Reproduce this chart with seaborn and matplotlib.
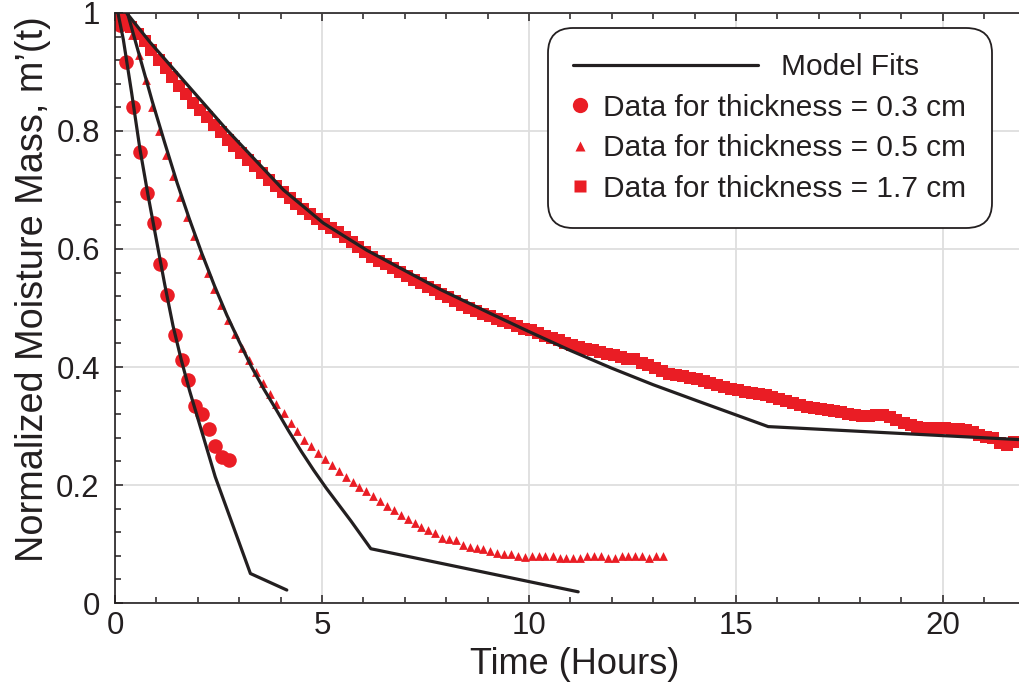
import matplotlib
matplotlib.use('Agg')
import matplotlib.pyplot as plt
from matplotlib.lines import Line2D
from matplotlib.legend_handler import HandlerLine2D
from matplotlib.ticker import MultipleLocator, FuncFormatter
import seaborn as sns

# data (time in hours, normalized moisture mass)
t_03 = [0.04, 0.12, 0.27, 0.44, 0.60, 0.77, 0.93, 1.09, 1.26, 1.45,
        1.61, 1.77, 1.94, 2.11, 2.26, 2.42, 2.59, 2.76]
m_03 = [1.000, 0.979, 0.917, 0.840, 0.765, 0.695, 0.644, 0.575, 0.522, 0.454,
        0.412, 0.378, 0.334, 0.320, 0.295, 0.266, 0.247, 0.242]

t_05 = [0.07, 0.24, 0.40, 0.57, 0.74, 0.90, 1.07, 1.24, 1.40, 1.57,
        1.74, 1.90, 2.07, 2.24, 2.40, 2.57, 2.74, 2.90, 3.07, 3.24,
        3.40, 3.57, 3.74, 3.90, 4.07, 4.24, 4.40, 4.57, 4.74, 4.90,
        5.07, 5.24, 5.40, 5.57, 5.74, 5.90, 6.07, 6.24, 6.40, 6.57,
        6.74, 6.90, 7.07, 7.24, 7.40, 7.57, 7.74, 7.90, 8.07, 8.24,
        8.40, 8.57, 8.74, 8.90, 9.07, 9.24, 9.40, 9.57, 9.74, 9.90,
        10.07, 10.24, 10.40, 10.57, 10.74, 10.90, 11.07, 11.24, 11.40, 11.57,
        11.74, 11.90, 12.07, 12.24, 12.40, 12.57, 12.74, 12.90, 13.07, 13.24]
m_05 = [1.000, 0.990, 0.963, 0.929, 0.886, 0.840, 0.800, 0.760, 0.723, 0.688,
        0.655, 0.622, 0.590, 0.560, 0.532, 0.505, 0.479, 0.456, 0.432, 0.412,
        0.392, 0.373, 0.354, 0.337, 0.322, 0.305, 0.291, 0.277, 0.266, 0.255,
        0.244, 0.234, 0.224, 0.214, 0.205, 0.197, 0.189, 0.181, 0.173, 0.165,
        0.157, 0.150, 0.143, 0.135, 0.129, 0.124, 0.118, 0.111, 0.108, 0.106,
        0.099, 0.095, 0.094, 0.092, 0.088, 0.085, 0.083, 0.083, 0.080, 0.078,
        0.079, 0.079, 0.079, 0.079, 0.076, 0.076, 0.076, 0.076, 0.079, 0.079,
        0.079, 0.076, 0.076, 0.079, 0.079, 0.079, 0.079, 0.076, 0.079, 0.079]

t_17 = [0.05, 0.22, 0.38, 0.55, 0.72, 0.88, 1.05, 1.22, 1.38, 1.55,
        1.72, 1.88, 2.05, 2.22, 2.38, 2.55, 2.72, 2.88, 3.05, 3.22,
        3.38, 3.55, 3.72, 3.88, 4.05, 4.22, 4.38, 4.55, 4.72, 4.88,
        5.05, 5.22, 5.38, 5.55, 5.72, 5.88, 6.05, 6.22, 6.38, 6.55,
        6.72, 6.88, 7.05, 7.22, 7.38, 7.55, 7.72, 7.88, 8.05, 8.22,
        8.38, 8.55, 8.72, 8.88, 9.05, 9.22, 9.38, 9.55, 9.72, 9.88,
        10.05, 10.22, 10.38, 10.55, 10.72, 10.88, 11.05, 11.22, 11.38, 11.55,
        11.72, 11.88, 12.05, 12.22, 12.38, 12.55, 12.72, 12.88, 13.05, 13.22,
        13.38, 13.55, 13.72, 13.88, 14.05, 14.22, 14.38, 14.55, 14.72, 14.88,
        15.05, 15.22, 15.38, 15.55, 15.72, 15.88, 16.05, 16.22, 16.38, 16.55,
        16.72, 16.88, 17.05, 17.22, 17.38, 17.55, 17.72, 17.88, 18.05, 18.22,
        18.38, 18.55, 18.72, 18.88, 19.05, 19.22, 19.38, 19.55, 19.72, 19.88,
        20.05, 20.22, 20.38, 20.55, 20.72, 20.88, 21.05, 21.22, 21.38, 21.55,
        21.72]
m_17 = [1.000, 0.990, 0.976, 0.965, 0.953, 0.937, 0.921, 0.906, 0.891, 0.877,
        0.862, 0.848, 0.835, 0.823, 0.810, 0.798, 0.785, 0.774, 0.763, 0.751,
        0.740, 0.728, 0.717, 0.707, 0.696, 0.686, 0.677, 0.668, 0.659, 0.650,
        0.643, 0.636, 0.628, 0.620, 0.612, 0.603, 0.595, 0.587, 0.580, 0.574,
        0.568, 0.561, 0.555, 0.548, 0.542, 0.536, 0.530, 0.524, 0.518, 0.512,
        0.505, 0.500, 0.495, 0.490, 0.486, 0.482, 0.478, 0.474, 0.469, 0.465,
        0.462, 0.458, 0.453, 0.449, 0.445, 0.441, 0.437, 0.434, 0.431, 0.428,
        0.425, 0.422, 0.420, 0.417, 0.414, 0.413, 0.407, 0.403, 0.399, 0.393,
        0.388, 0.386, 0.385, 0.382, 0.379, 0.376, 0.373, 0.369, 0.366, 0.363,
        0.361, 0.358, 0.356, 0.354, 0.353, 0.350, 0.346, 0.342, 0.339, 0.336,
        0.333, 0.331, 0.329, 0.327, 0.325, 0.323, 0.321, 0.319, 0.317, 0.317,
        0.319, 0.318, 0.315, 0.310, 0.305, 0.301, 0.298, 0.297, 0.297, 0.296,
        0.296, 0.295, 0.295, 0.293, 0.290, 0.284, 0.281, 0.280, 0.272, 0.268,
        0.273]

# model fit curves
fit_t_03 = [0.07, 0.20, 0.40, 0.60, 0.80, 1.00, 1.20, 1.40, 1.60, 1.80,
            1.97, 2.20, 2.42, 3.27, 4.15]
fit_m_03 = [1.000, 0.955, 0.865, 0.770, 0.690, 0.615, 0.540, 0.470, 0.412, 0.360,
            0.320, 0.266, 0.214, 0.050, 0.022]
fit_t_05 = [0.30, 0.60, 0.90, 1.20, 1.50, 1.80, 2.10, 2.40, 2.70, 3.00,
            3.30, 3.60, 3.90, 4.20, 4.50, 4.80, 5.10, 5.40, 5.70, 6.18, 11.19]
fit_m_05 = [1.000, 0.925, 0.850, 0.780, 0.712, 0.650, 0.592, 0.538, 0.488, 0.443,
            0.400, 0.362, 0.327, 0.291, 0.257, 0.225, 0.195, 0.167, 0.139, 0.092, 0.019]
fit_t_17 = [0.28, 0.85, 1.50, 2.70, 4.07, 5.03, 6.08, 6.96, 7.87, 9.00,
            10.00, 11.00, 12.00, 13.00, 14.05, 15.78, 21.84]
fit_m_17 = [1.000, 0.950, 0.898, 0.802, 0.700, 0.644, 0.598, 0.565, 0.531, 0.493,
            0.460, 0.428, 0.398, 0.370, 0.343, 0.299, 0.277]

labels = ['Model Fits', 'Data for thickness = 0.3 cm',
          'Data for thickness = 0.5 cm', 'Data for thickness = 1.7 cm']

red = '#ea1d25'
ink = '#231f20'

sns.set_theme(style='ticks')
plt.rcParams['font.family'] = ['Liberation Sans', 'DejaVu Sans']
plt.rcParams['text.color'] = ink
plt.rcParams['axes.labelcolor'] = ink
plt.rcParams['xtick.color'] = ink
plt.rcParams['ytick.color'] = ink

fig = plt.figure(figsize=(10.19, 6.94), dpi=100)
ax = fig.add_axes([0.1129, 0.1311, 0.8871, 0.8502])

# data markers
sns.scatterplot(x=t_17, y=m_17, marker='s', s=80, color=red, linewidth=0, ax=ax, zorder=2)
sns.scatterplot(x=t_05, y=m_05, marker='^', s=40, color=red, linewidth=0, ax=ax, zorder=2)
sns.scatterplot(x=t_03, y=m_03, marker='o', s=110, color=red, linewidth=0, ax=ax, zorder=2)

# model fits on top
for ft, fm in [(fit_t_03, fit_m_03), (fit_t_05, fit_m_05), (fit_t_17, fit_m_17)]:
    sns.lineplot(x=ft, y=fm, color=ink, lw=2.3, estimator=None, sort=False, ax=ax, zorder=3)

ax.set_xlim(0, 21.84)
ax.set_ylim(0, 1)
ax.xaxis.set_major_locator(MultipleLocator(5))
ax.xaxis.set_minor_locator(MultipleLocator(1))
ax.yaxis.set_major_locator(MultipleLocator(0.2))
ax.yaxis.set_minor_locator(MultipleLocator(0.04))
ax.yaxis.set_major_formatter(FuncFormatter(lambda v, p: f'{v:g}'))

ax.grid(True, which='major', color='#dedede', lw=1.3)
ax.set_axisbelow(True)
ax.tick_params(which='both', direction='in', top=True, right=False, width=1.1)
ax.tick_params(which='major', length=6, labelsize=22.5)
ax.tick_params(which='minor', length=4)
ax.tick_params(axis='y', pad=11)
ax.tick_params(axis='x', pad=6)
ax.spines['right'].set_visible(False)
for side in ['left', 'bottom', 'top']:
    ax.spines[side].set_linewidth(1.2)
    ax.spines[side].set_color(ink)

ax.set_xlabel('Time (Hours)', fontsize=26)
ax.set_ylabel('Normalized Moisture Mass, m’(t)', fontsize=27.3)
ax.xaxis.set_label_coords(0.509, -0.075)
ax.yaxis.set_label_coords(-0.071, 0.532)


class LongLine(HandlerLine2D):
    def create_artists(self, legend, orig_handle, xdescent, ydescent, width, height, fontsize, trans):
        y = height / 2 - ydescent
        line = Line2D([-xdescent, -xdescent + 13.2 * width], [y, y])
        self.update_prop(line, orig_handle, legend)
        line.set_transform(trans)
        return [line]


handles = [Line2D([], [], color=ink, lw=2.3),
           Line2D([], [], ls='', marker='o', ms=11, color=red, mec='none'),
           Line2D([], [], ls='', marker='^', ms=7, color=red, mec='none'),
           Line2D([], [], ls='', marker='s', ms=8.5, color=red, mec='none')]
leg = ax.legend(handles, labels, loc='upper right', bbox_to_anchor=(0.970, 0.975),
                borderaxespad=0, fontsize=21.5, frameon=True, fancybox=True,
                framealpha=1, edgecolor=ink, handlelength=0.47, handletextpad=0.55,
                labelspacing=0.42, borderpad=0.85,
                handler_map={handles[0]: LongLine()})
leg.get_frame().set_linewidth(1.3)
leg.get_frame().set_boxstyle('round', pad=0, rounding_size=0.85)
leg.get_texts()[0].set_x(178)

fig.savefig('out.png', dpi=100)
